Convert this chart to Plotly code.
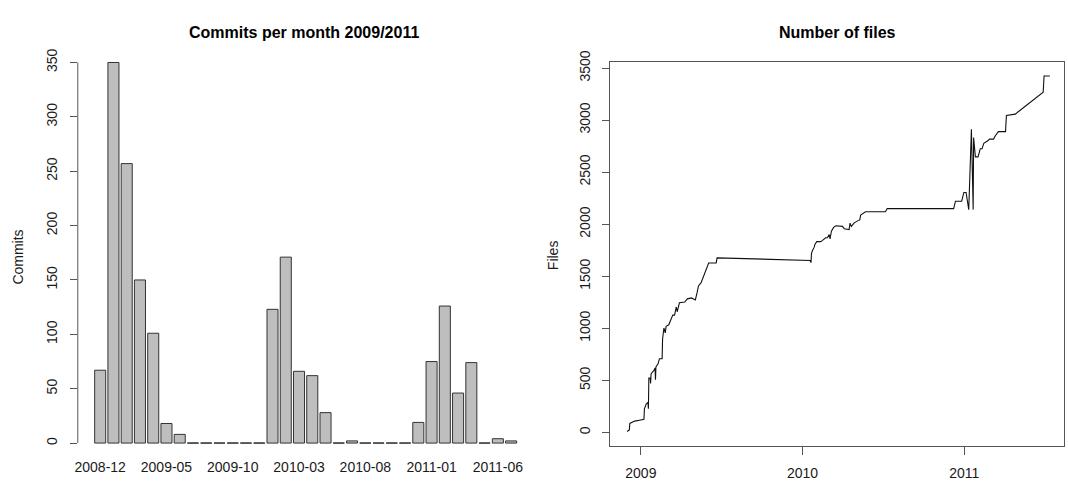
import plotly.graph_objects as go

# ---------------- data: commits per month ----------------
months = ["2008-12",
          "2009-01", "2009-02", "2009-03", "2009-04", "2009-05", "2009-06",
          "2009-07", "2009-08", "2009-09", "2009-10", "2009-11", "2009-12",
          "2010-01", "2010-02", "2010-03", "2010-04", "2010-05", "2010-06",
          "2010-07", "2010-08", "2010-09", "2010-10", "2010-11", "2010-12",
          "2011-01", "2011-02", "2011-03", "2011-04", "2011-05", "2011-06",
          "2011-07"]
commits = [67,
           350, 257, 150, 101, 18, 8, 0, 0, 0, 0, 0, 0,
           123, 171, 66, 62, 28, 0, 2, 0, 0, 0, 0, 19,
           75, 126, 46, 74, 0, 4, 2]
commit_ticks = [0, 50, 100, 150, 200, 250, 300, 350]

# ---------------- data: number of files ----------------
file_dates = ["2008-12-01", "2008-12-06", "2008-12-07", "2008-12-11", "2008-12-18",
              "2008-12-29", "2009-01-08", "2009-01-09", "2009-01-13", "2009-01-17",
              "2009-01-18", "2009-01-19", "2009-01-22", "2009-01-23", "2009-01-24",
              "2009-01-31", "2009-02-02", "2009-02-03", "2009-02-04", "2009-02-09",
              "2009-02-12", "2009-02-18", "2009-02-19", "2009-02-22", "2009-02-25",
              "2009-02-27", "2009-03-05", "2009-03-11", "2009-03-14", "2009-03-18",
              "2009-03-22", "2009-03-24", "2009-03-29", "2009-04-10", "2009-04-16",
              "2009-04-25", "2009-05-04", "2009-05-08", "2009-05-11", "2009-05-17",
              "2009-06-03", "2009-06-20", "2009-06-22",
              "2010-01-18", "2010-01-20", "2010-01-21", "2010-01-23", "2010-01-27",
              "2010-01-29", "2010-02-02", "2010-02-11", "2010-02-15", "2010-02-19",
              "2010-02-22", "2010-02-26", "2010-03-02", "2010-03-04", "2010-03-07",
              "2010-03-12", "2010-03-17", "2010-04-01", "2010-04-05", "2010-04-16",
              "2010-04-18", "2010-04-21", "2010-04-27", "2010-05-05", "2010-05-10",
              "2010-05-12", "2010-05-23", "2010-07-07", "2010-07-11",
              "2010-12-08", "2010-12-12", "2010-12-26", "2010-12-31", "2011-01-05",
              "2011-01-11", "2011-01-17", "2011-01-21", "2011-01-22", "2011-01-26",
              "2011-02-01", "2011-02-06", "2011-02-10", "2011-02-14", "2011-02-23",
              "2011-02-27", "2011-03-08", "2011-03-12", "2011-03-19", "2011-04-04",
              "2011-04-06", "2011-04-26", "2011-06-28", "2011-06-30", "2011-07-13"]
file_counts = [9, 25, 87, 96, 109,
               118, 127, 227, 273, 289,
               227, 522, 522, 470, 562,
               600, 620, 506, 630, 662,
               708, 708, 895, 1003, 957,
               1019, 1034, 1096, 1127, 1127,
               1205, 1159, 1245, 1252, 1283,
               1292, 1273, 1345, 1407, 1438,
               1628, 1628, 1677,
               1652, 1631, 1715, 1746, 1777,
               1808, 1833, 1833, 1845, 1855,
               1870, 1870, 1901, 1858, 1932,
               1969, 1985, 1979, 1957, 1948,
               2010, 1979, 2010, 2032, 2041,
               2088, 2119, 2119, 2150,
               2150, 2221, 2221, 2305, 2305,
               2140, 2911, 2140, 2833, 2647,
               2647, 2724, 2724, 2777, 2802,
               2817, 2817, 2849, 2889, 2889,
               3045, 3057, 3268, 3423, 3423]
file_ticks = [0, 500, 1000, 1500, 2000, 2500, 3000, 3500]
year_ticks = ["2009-01-01", "2010-01-01", "2011-01-01"]
year_labels = ["2009", "2010", "2011"]

# ---------------- layout helpers ----------------
W, H = 1068, 481
FONT = "Liberation Sans, Arial, Helvetica, sans-serif"
TXT = "#1a1a1a"
AX = "#555555"


def px_x(p):
    return p / W


def px_y(p):
    return 1 - p / H


bar_w = 1 / 1.2
idx = list(range(len(months)))

fig = go.Figure()

fig.add_trace(go.Bar(
    x=idx, y=commits, width=bar_w,
    marker=dict(color="#BEBEBE", line=dict(color="#333333", width=1)),
    xaxis="x", yaxis="y", showlegend=False, hoverinfo="x+y"))

# zero-height bars are drawn by R as flat outlines
zx, zy = [], []
for i, v in enumerate(commits):
    if v == 0:
        zx += [i - bar_w / 2, i + bar_w / 2, None]
        zy += [0, 0, None]
fig.add_trace(go.Scatter(x=zx, y=zy, mode="lines",
                         line=dict(color="#555555", width=1.2),
                         xaxis="x", yaxis="y", showlegend=False, hoverinfo="skip"))

fig.add_trace(go.Scatter(x=file_dates, y=file_counts, mode="lines",
                         line=dict(color="#111111", width=1.1),
                         xaxis="x2", yaxis="y2", showlegend=False))

tickfont = dict(family=FONT, size=14, color=TXT)

fig.update_layout(
    width=W, height=H,
    margin=dict(l=0, r=0, t=0, b=0),
    paper_bgcolor="white", plot_bgcolor="white",
    font=dict(family=FONT, color=TXT),
    xaxis=dict(domain=[px_x(75), px_x(532)], range=[-1.69, 32.69],
               tickmode="array", tickvals=idx[::5], ticktext=months[::5],
               ticks="", showline=False, showgrid=False, zeroline=False,
               tickfont=tickfont, ticklabelstandoff=10),
    yaxis=dict(domain=[px_y(448), px_y(40)], range=[-3.57, 360.7],
               tickmode="array", tickvals=commit_ticks,
               ticks="outside", ticklen=7, tickcolor=AX, tickwidth=1,
               tickangle=-90, showline=False, showgrid=False, zeroline=False,
               tickfont=tickfont, ticklabelstandoff=7),
    xaxis2=dict(domain=[px_x(609), px_x(1064)], range=["2008-10-24", "2011-08-14"],
                type="date", tickmode="array", tickvals=year_ticks, ticktext=year_labels,
                ticks="outside", ticklen=8, tickcolor=AX, tickwidth=1,
                showline=True, mirror=True, linecolor=AX, linewidth=1,
                showgrid=False, zeroline=False, tickfont=tickfont, anchor="y2",
                ticklabelstandoff=6),
    yaxis2=dict(domain=[px_y(447), px_y(52)], range=[-130, 3553],
                tickmode="array", tickvals=file_ticks,
                ticks="outside", ticklen=7, tickcolor=AX, tickwidth=1,
                tickangle=-90, showline=True, mirror=True, linecolor=AX, linewidth=1,
                showgrid=False, zeroline=False, tickfont=tickfont, anchor="x2",
                ticklabelstandoff=7),
    shapes=[dict(type="line", xref="paper", yref="y",
                 x0=px_x(75), x1=px_x(75), y0=commit_ticks[0], y1=commit_ticks[-1],
                 line=dict(color=AX, width=1))],
    annotations=[
        dict(text="<b>Commits per month 2009/2011</b>", xref="paper", yref="paper",
             x=px_x(302), y=px_y(21), xanchor="center", yanchor="middle",
             showarrow=False, font=dict(family=FONT, size=16, color="#000")),
        dict(text="<b>Number of files</b>", xref="paper", yref="paper",
             x=px_x(837), y=px_y(21), xanchor="center", yanchor="middle",
             showarrow=False, font=dict(family=FONT, size=16, color="#000")),
        dict(text="Commits", xref="paper", yref="paper", textangle=-90,
             x=px_x(15), y=px_y(252), xanchor="center", yanchor="middle",
             showarrow=False, font=dict(family=FONT, size=14, color=TXT)),
        dict(text="Files", xref="paper", yref="paper", textangle=-90,
             x=px_x(551), y=px_y(250), xanchor="center", yanchor="middle",
             showarrow=False, font=dict(family=FONT, size=14, color=TXT)),
    ],
)

fig.write_html("out.html", config={"displayModeBar": False},
               post_script="document.body.style.margin='0';")
